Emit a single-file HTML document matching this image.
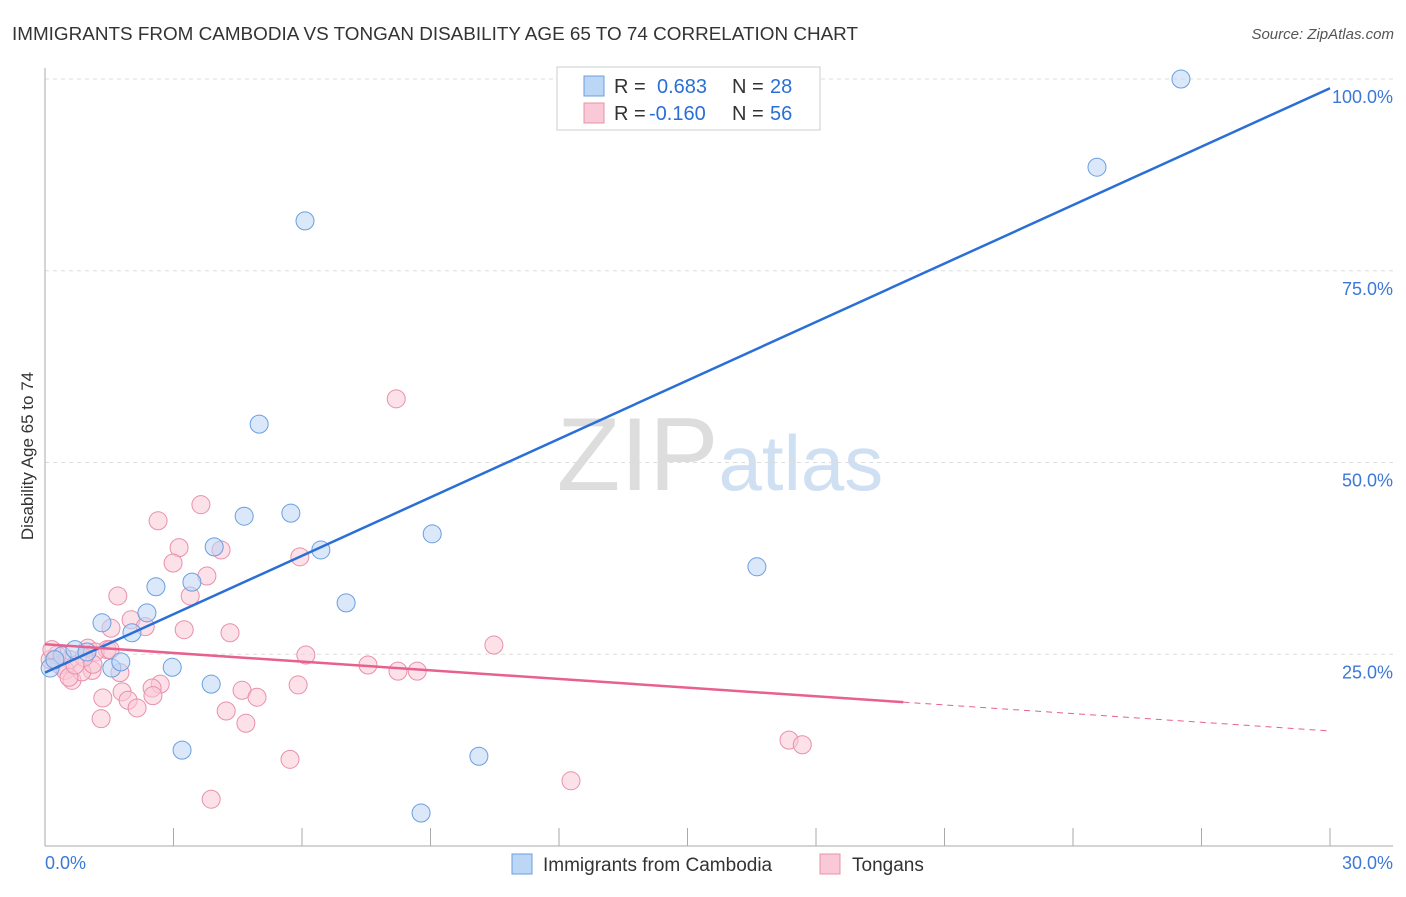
<!DOCTYPE html>
<html><head><meta charset="utf-8"><style>
body{margin:0;background:#fff;font-family:"Liberation Sans",sans-serif}
svg text{font-family:"Liberation Sans",sans-serif}
</style></head><body>
<svg id="chart" width="1406" height="892" xmlns="http://www.w3.org/2000/svg">
<text x="12" y="40" font-size="18" fill="#333" textLength="846" lengthAdjust="spacingAndGlyphs">IMMIGRANTS FROM CAMBODIA VS TONGAN DISABILITY AGE 65 TO 74 CORRELATION CHART</text>
<text x="1394" y="39" font-size="15" fill="#555" text-anchor="end" font-style="italic">Source: ZipAtlas.com</text>
<text x="720" y="490" font-size="104" text-anchor="middle" fill="#ddd" font-family="Liberation Serif">ZIP<tspan fill="#cfe0f3" font-family="Liberation Sans" font-size="78">atlas</tspan></text>
<text transform="translate(33,456) rotate(-90)" font-size="17" fill="#333" text-anchor="middle">Disability Age 65 to 74</text>
<g id="grid"></g><g id="axes"></g><g id="pts"></g><g id="lines"></g>
<g>
<rect x="557" y="67" width="263" height="63" fill="#fff" stroke="#ccc"/>
<rect x="584" y="76" width="20" height="20" fill="#bcd6f5" stroke="#6a9fe0"/>
<text x="614" y="93" font-size="20" fill="#333">R =<tspan x="657" fill="#2a6fd6">0.683</tspan><tspan x="732">N =</tspan><tspan x="770" fill="#2a6fd6">28</tspan></text>
<rect x="584" y="103" width="20" height="20" fill="#f9c9d7" stroke="#e890ab"/>
<text x="614" y="120" font-size="20" fill="#333">R =<tspan x="649" fill="#2a6fd6">-0.160</tspan><tspan x="732">N =</tspan><tspan x="770" fill="#2a6fd6">56</tspan></text>
</g>
<g>
<rect x="512" y="854" width="20" height="20" fill="#bcd6f5" stroke="#6a9fe0"/>
<text x="543" y="871" font-size="19" fill="#333">Immigrants from Cambodia</text>
<rect x="820" y="854" width="20" height="20" fill="#f9c9d7" stroke="#e890ab"/>
<text x="852" y="871" font-size="19" fill="#333">Tongans</text>
</g>
</svg>
<script>
const blueX=[26.52,24.56,6.07,5.00,4.65,5.74,3.95,6.44,9.04,16.62,2.59,3.43,2.38,1.33,2.03,7.03,2.97,1.56,1.77,3.88,3.20,10.13,8.78,0.40,0.70,0.98,0.12,0.23];
const blueY=[100,88.5,81.5,55.0,43.0,43.4,39.0,38.6,40.7,36.4,33.8,34.4,30.4,29.1,27.8,31.7,23.3,23.2,24.0,21.1,12.5,11.7,4.3,24.8,25.6,25.3,23.2,24.3];
const pinkX=[8.20,3.64,2.64,3.13,4.11,2.99,5.95,3.78,3.39,1.70,2.01,2.34,1.54,3.25,4.32,10.48,6.09,7.54,8.24,8.69,1.00,1.45,1.17,0.58,0.35,0.47,0.63,1.75,1.10,2.69,2.50,1.80,4.60,4.95,5.91,1.35,1.94,2.52,2.15,4.23,4.69,1.31,5.72,3.88,12.28,17.37,17.68,0.28,0.12,0.86,0.56,1.12,1.52,0.91,0.16,0.70];
const pinkY=[58.3,44.5,42.4,38.9,38.6,36.9,37.7,35.2,32.6,32.6,29.5,28.6,28.4,28.2,27.8,26.2,24.9,23.6,22.8,22.8,25.8,25.6,25.3,24.3,23.6,22.9,21.6,22.6,22.9,21.1,20.6,20.1,20.3,19.4,21.0,19.3,19.0,19.6,18.0,17.6,16.0,16.6,11.3,6.1,8.5,13.8,13.2,24.9,24.3,22.7,22.0,23.7,25.6,24.6,25.6,23.6];
const yTicks=[25,50,75,100];
const xTickLabels=["0.0%","30.0%"];
const blueTrend=[22.6,98.8];
const pinkTrend=[26.3,15.0];
const pinkSolidEnd=20.04;
const NS="http://www.w3.org/2000/svg";
const sx=v=>45+v/30*1285, sy=v=>846-v/100*767;
function mk(t,a,p){const e=document.createElementNS(NS,t);for(const k in a)e.setAttribute(k,a[k]);p.appendChild(e);return e;}
const grid=document.getElementById('grid'),axes=document.getElementById('axes'),pts=document.getElementById('pts'),lines=document.getElementById('lines');
yTicks.forEach(t=>{
 const l=mk('line',{x1:45,x2:1393,y1:sy(t),y2:sy(t),stroke:'#ddd','stroke-dasharray':'4,4'},grid);
 
 
 const tx=mk('text',{x:1393,y:sy(t)+24,'font-size':18,fill:'#3b78d8','text-anchor':'end'},grid);
 tx.textContent=t.toFixed(1)+'%';
 
 
});
const ax=mk('line',{x1:45,x2:45,y1:68,y2:846,stroke:'#aaa'},axes);


const bx=mk('line',{x1:45,x2:1393,y1:846,y2:846,stroke:'#aaa'},axes);


for(let i=1;i<=10;i++){const t=mk('line',{x1:sx(i*3),x2:sx(i*3),y1:828,y2:846,stroke:'#aaa'},axes);
 
 }
[[0,xTickLabels[0],'start',45],[30,xTickLabels[1],'end',1393]].forEach(d=>{const t=mk('text',{x:d[3],y:869,'font-size':18,fill:'#3b78d8','text-anchor':d[2]},axes);t.textContent=d[1];
 
 });
function dots(X,Y,fill,stroke,name){X.forEach((x,i)=>{const c=mk('circle',{cx:sx(x),cy:sy(Y[i]),r:9,fill:fill,'fill-opacity':0.55,stroke:stroke,'stroke-width':1},pts);
 
 });}
dots(pinkX,pinkY,'#f9c9d7','#e890ab','tongan-point');
dots(blueX,blueY,'#bcd6f5','#6a9fe0','cambodia-point');
const bl=mk('line',{x1:sx(0),y1:sy(blueTrend[0]),x2:sx(30),y2:sy(blueTrend[1]),stroke:'#2a6fd6','stroke-width':2.5},lines);


const py=x=>pinkTrend[0]+(pinkTrend[1]-pinkTrend[0])*x/30;
const pl=mk('line',{x1:sx(0),y1:sy(py(0)),x2:sx(pinkSolidEnd),y2:sy(py(pinkSolidEnd)),stroke:'#e8608d','stroke-width':2.5},lines);


const pd=mk('line',{x1:sx(pinkSolidEnd),y1:sy(py(pinkSolidEnd)),x2:sx(30),y2:sy(py(30)),stroke:'#e8608d','stroke-width':1,'stroke-dasharray':'6,5'},lines);


</script>
</body></html>
